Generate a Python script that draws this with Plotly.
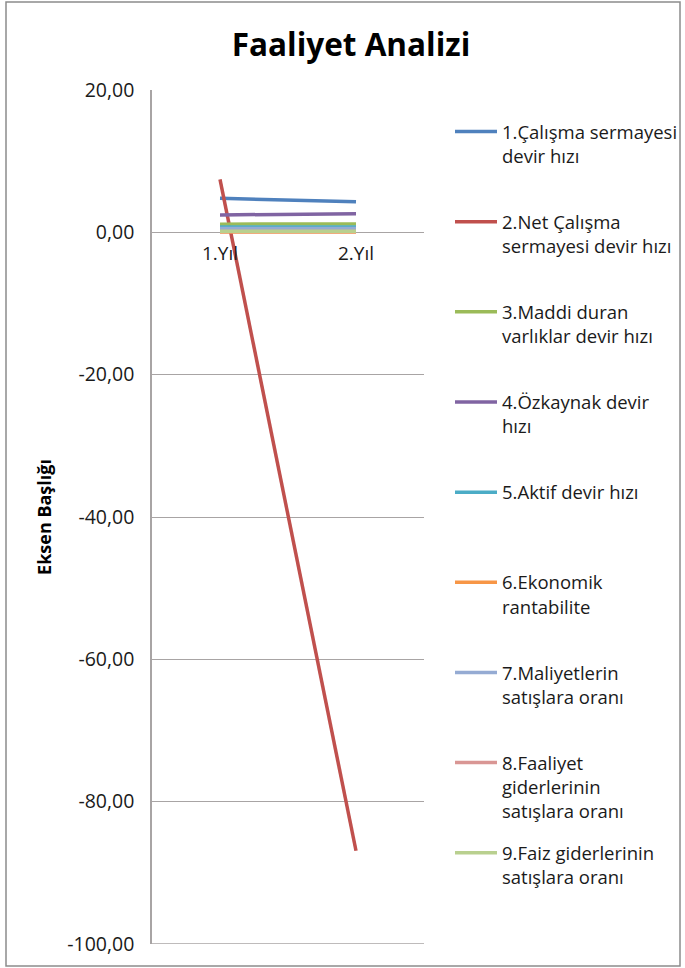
import plotly.graph_objects as go

# ---------------- data ----------------
categories = ["1.Yıl", "2.Yıl"]

series_names = [
    "1.Çalışma sermayesi<br>devir hızı",
    "2.Net Çalışma<br>sermayesi devir hızı",
    "3.Maddi duran<br>varlıklar devir hızı",
    "4.Özkaynak devir<br>hızı",
    "5.Aktif devir hızı",
    "6.Ekonomik<br>rantabilite",
    "7.Maliyetlerin<br>satışlara oranı",
    "8.Faaliyet<br>giderlerinin<br>satışlara oranı",
    "9.Faiz giderlerinin<br>satışlara oranı",
]

calisma_sermayesi = [4.78, 4.28]
net_calisma_sermayesi = [7.45, -86.9]
maddi_duran = [1.15, 1.18]
ozkaynak = [2.45, 2.6]
aktif_devir = [0.75, 0.75]
ekonomik_rantabilite = [0.05, 0.05]
maliyetler = [0.55, 0.55]
faaliyet_giderleri = [0.1, 0.1]
faiz_giderleri = [0.15, 0.15]

series_values = [
    calisma_sermayesi, net_calisma_sermayesi, maddi_duran, ozkaynak,
    aktif_devir, ekonomik_rantabilite, maliyetler, faaliyet_giderleri,
    faiz_giderleri,
]

colors = ["#4F81BD", "#C0504D", "#9BBB59", "#8064A2", "#4BACC6",
          "#F79646", "#95ABD3", "#D99694", "#B9D08F"]

y_min, y_max, y_step = -100, 20, 20
tick_vals = list(range(y_min, y_max + 1, y_step))
tick_text = [f"{v:.2f}".replace(".", ",") for v in tick_vals]

chart_title = "Faaliyet Analizi"
y_title = "Eksen Başlığı"

FONT = "Open Sans"
TXT = "#1a1a1a"
GRID = "#A8A4A4"
LEG_SIZE = 18.5

# legend labels padded to equal height (3 lines)
def pad(label, n=3):
    k = label.count("<br>") + 1
    return label + "<br>&nbsp;" * (n - k)

fig = go.Figure()
for i, (name, vals, col) in enumerate(zip(series_names, series_values, colors)):
    fig.add_trace(go.Scatter(
        x=categories, y=vals, mode="lines", name=pad(name),
        line=dict(color=col, width=3.5),
        legendgroup=f"g{i}",
    ))

fig.update_layout(
    width=685, height=968,
    margin=dict(l=152, r=261, t=90, b=24),
    paper_bgcolor="white", plot_bgcolor="white",
    separators=",.",
    font=dict(family=FONT, color=TXT),
    title=dict(text="<b>" + chart_title + "</b>", x=351 / 685, xanchor="center",
               xref="container", y=1 - 45 / 968, yref="container", yanchor="middle",
               font=dict(size=31.5, color="#000000", family=FONT)),
    showlegend=True,
    legend=dict(
        xref="container", yref="container",
        x=450 / 685, y=1 - 113 / 968, xanchor="left", yanchor="top",
        font=dict(size=LEG_SIZE, color=TXT, family=FONT),
        valign="top", tracegroupgap=15, itemwidth=42,
        maxheight=900,
        bgcolor="rgba(0,0,0,0)",
    ),
    xaxis=dict(
        type="category", range=[-0.5, 1.5],
        anchor="free", position=(0 - y_min) / (y_max - y_min),
        showline=False,
        showgrid=False, ticks="", ticklabelstandoff=8,
        tickfont=dict(size=19, color=TXT),
    ),
    yaxis=dict(
        range=[y_min, y_max], tickvals=tick_vals, ticktext=tick_text,
        showgrid=True, gridcolor=GRID, gridwidth=1.3, zeroline=False,
        showline=True, linecolor=GRID, linewidth=1.5,
        ticks="", ticklabelstandoff=12,
        tickfont=dict(size=19.5, color=TXT),
        title=dict(text="<b>" + y_title + "</b>", standoff=11,
                   font=dict(size=18, color="#000000")),
    ),
    shapes=[
        dict(type="rect", xref="paper", yref="paper",
             x0=(6 - 152) / 272, x1=(680 - 152) / 272,
             y0=(944 - 966) / 854, y1=(944 - 2) / 854,
             line=dict(color="#8C8C8C", width=1.5), layer="below"),
        # bottom gridline (plotly omits the gridline at the range edge)
        dict(type="line", xref="paper", yref="y", x0=0, x1=1,
             y0=y_min, y1=y_min, line=dict(color=GRID, width=1.5),
             layer="below"),
    ],
)

fig.write_html(
    "out.html",
    config={"displayModeBar": False},
    post_script="document.body.style.margin='0';document.body.style.overflow='hidden';",
)
